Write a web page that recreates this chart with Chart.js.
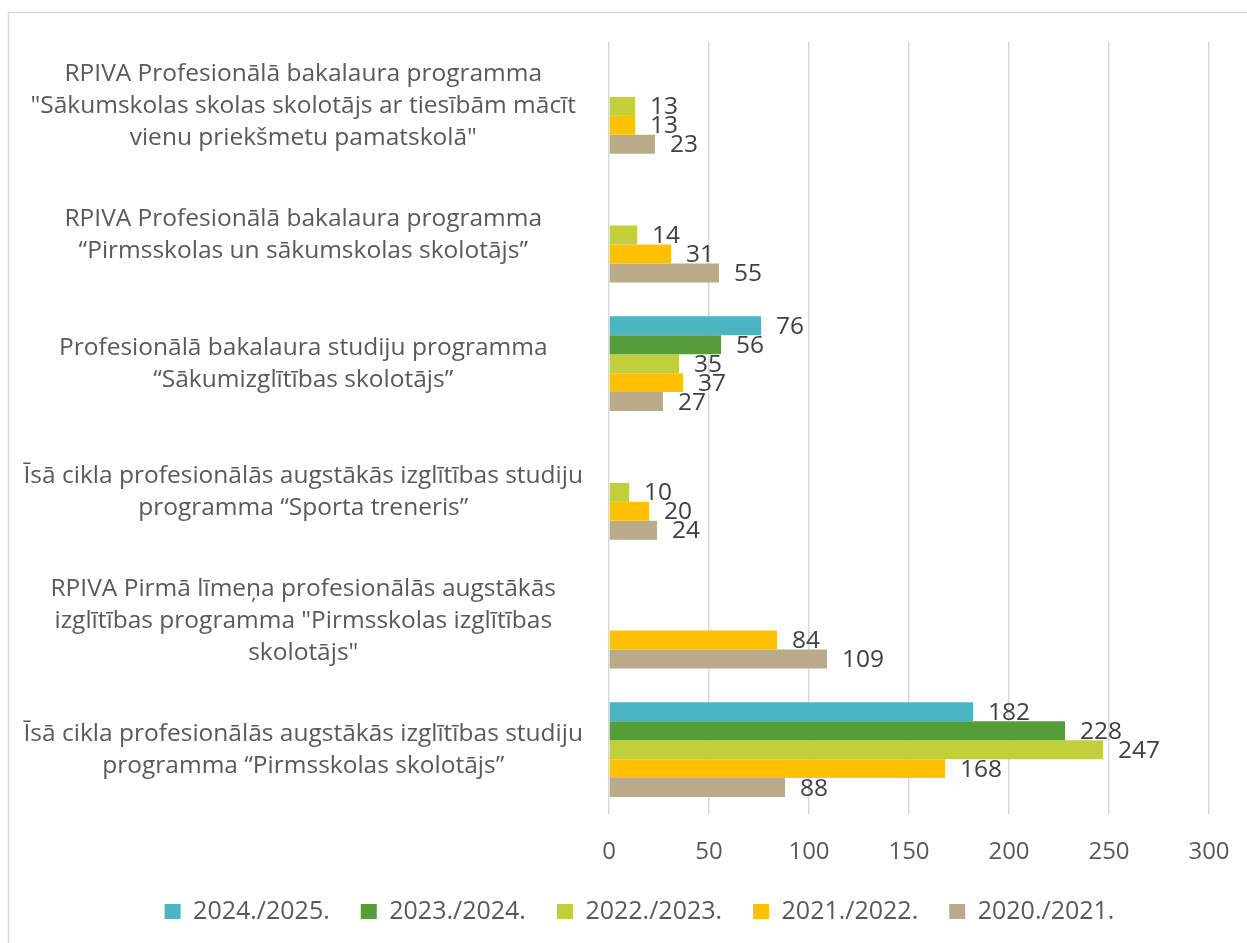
<!DOCTYPE html>
<html>
<head>
<meta charset="utf-8">
<script src="https://cdn.jsdelivr.net/npm/chart.js@4.4.1/dist/chart.umd.min.js"></script>
<style>
  html, body { margin: 0; padding: 0; background: #ffffff; }
  #wrap { position: relative; width: 1247px; height: 943px; }
  canvas { display: block; }
</style>
</head>
<body>
<div id="wrap"><canvas id="c" width="1247" height="943"></canvas></div>
<script>
const categories = [
  ['RPIVA Profesionālā bakalaura programma', '"Sākumskolas skolas skolotājs ar tiesībām mācīt', 'vienu priekšmetu pamatskolā"'],
  ['RPIVA Profesionālā bakalaura programma', '“Pirmsskolas un sākumskolas skolotājs”'],
  ['Profesionālā bakalaura studiju programma', '“Sākumizglītības skolotājs”'],
  ['Īsā cikla profesionālās augstākās izglītības studiju', 'programma “Sporta treneris”'],
  ['RPIVA Pirmā līmeņa profesionālās augstākās', 'izglītības programma "Pirmsskolas izglītības', 'skolotājs"'],
  ['Īsā cikla profesionālās augstākās izglītības studiju', 'programma “Pirmsskolas skolotājs”']
];
const seriesNames = ['2024./2025.', '2023./2024.', '2022./2023.', '2021./2022.', '2020./2021.'];
const y2024 = [null, null, 76, null, null, 182];
const y2023 = [null, null, 56, null, null, 228];
const y2022 = [13, 14, 35, 10, null, 247];
const y2021 = [13, 31, 37, 20, 84, 168];
const y2020 = [23, 55, 27, 24, 109, 88];
const xTicks = [0, 50, 100, 150, 200, 250, 300];
const colors = ['#4BB5C4', '#549E39', '#C1CF3A', '#FFC000', '#B9AB89'];

const seriesValues = [y2024, y2023, y2022, y2021, y2020];
const FONT = '"Open Sans", sans-serif';

const frame = {
  id: 'frame',
  beforeDraw(chart) {
    const ctx = chart.ctx;
    ctx.save();
    ctx.strokeStyle = '#d9d9d9';
    ctx.lineWidth = 1.5;
    ctx.beginPath();
    ctx.moveTo(8.5, 943);
    ctx.lineTo(8.5, 12.5);
    ctx.lineTo(1247, 12.5);
    ctx.stroke();
    ctx.restore();
  }
};

const legendShift = {
  id: 'legendShift',
  afterLayout(chart) {
    if (chart.legend) {
      chart.legend.left += 30;
      chart.legend.right += 30;
    }
  }
};

const valueLabels = {
  id: 'valueLabels',
  afterDatasetsDraw(chart) {
    const ctx = chart.ctx;
    ctx.save();
    ctx.font = '24.5px ' + FONT;
    ctx.fillStyle = '#404040';
    ctx.textAlign = 'left';
    ctx.textBaseline = 'middle';
    chart.data.datasets.forEach((ds, di) => {
      const meta = chart.getDatasetMeta(di);
      meta.data.forEach((bar, i) => {
        const v = ds.data[i];
        if (v === null || v === undefined) return;
        ctx.fillText(String(v), bar.x + 15, bar.y + 1);
      });
    });
    ctx.restore();
  }
};

new Chart(document.getElementById('c'), {
  type: 'bar',
  data: {
    labels: categories,
    datasets: seriesNames.map((name, k) => ({
      label: name,
      data: seriesValues[k],
      backgroundColor: colors[k],
      borderWidth: 0,
      categoryPercentage: 0.737,
      barPercentage: 1.0
    }))
  },
  options: {
    indexAxis: 'y',
    responsive: false,
    animation: false,
    layout: { padding: { left: 10, right: 38, top: 42, bottom: 9 } },
    scales: {
      x: {
        min: 0, max: 300,
        afterBuildTicks(scale) { scale.ticks = xTicks.map(v => ({ value: v })); },
        afterFit(scale) { scale.height = 54; scale.paddingLeft = 0; scale.paddingRight = 0; },
        grid: { color: '#d9d9d9', lineWidth: 1.5, drawTicks: false },
        border: { display: false },
        ticks: { color: '#595959', font: { family: FONT, size: 24 }, padding: 24 }
      },
      y: {
        afterFit(scale) { scale.width = 599; scale.paddingTop = 0; scale.paddingBottom = 0; },
        grid: { display: false, drawTicks: false },
        border: { display: false },
        ticks: {
          color: '#595959',
          font: { family: FONT, size: 24.5, lineHeight: 1.306 },
          crossAlign: 'center',
          padding: 26,
          autoSkip: false
        }
      }
    },
    plugins: {
      legend: {
        position: 'bottom',
        labels: {
          color: '#595959',
          font: { family: FONT, size: 25 },
          boxWidth: 16,
          boxHeight: 15,
          padding: 31
        }
      },
      tooltip: { enabled: false }
    }
  },
  plugins: [frame, legendShift, valueLabels]
});
</script>
</body>
</html>
